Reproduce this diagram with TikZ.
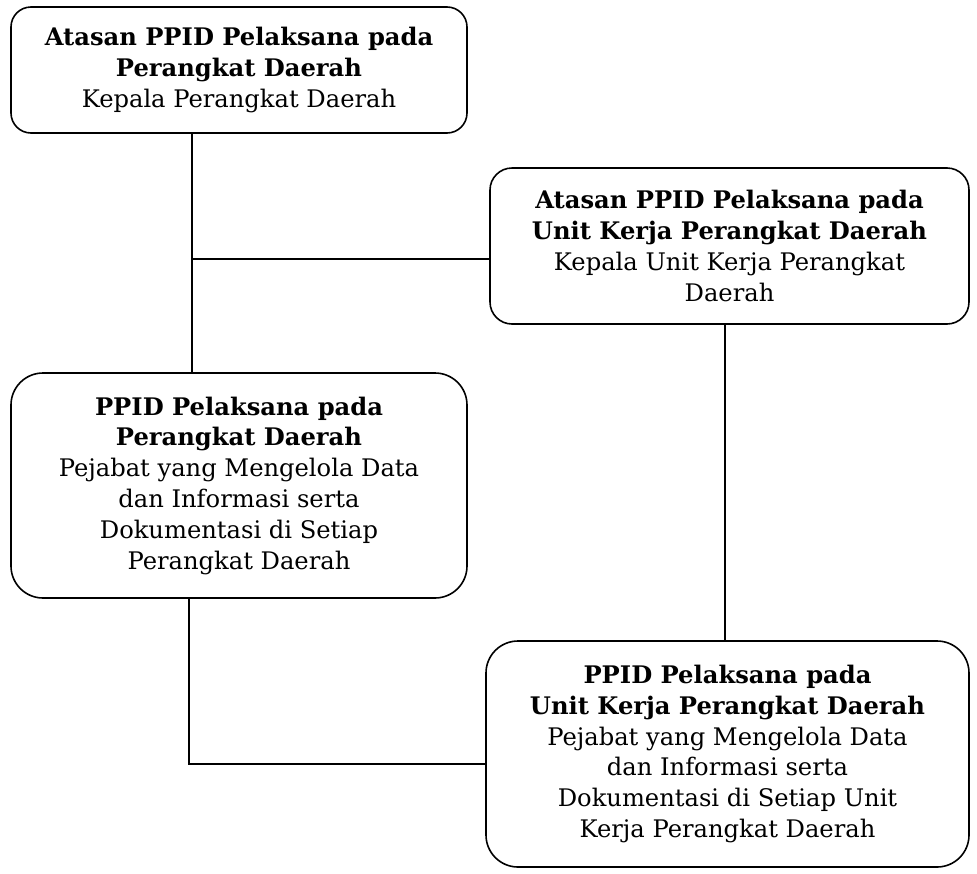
\documentclass[tikz,border=0pt]{standalone}
\usepackage{fontspec}
\setmainfont{DejaVu Serif}
\begin{document}
\begin{tikzpicture}[x=1pt,y=-1pt,
  box/.style={draw=black, line width=1.6pt, align=center, inner sep=0pt,
    font=\fontsize{24.2}{30.8}\selectfont},
  conn/.style={draw=black, line width=1.3pt}]
\useasboundingbox (0,0) rectangle (977,873);
\node[box, rounded corners=20pt, minimum width=456pt, minimum height=126pt] (a) at (239,70)
  {\textbf{Atasan PPID Pelaksana pada}\\\textbf{Perangkat Daerah}\\Kepala Perangkat Daerah};
\node[box, rounded corners=22pt, minimum width=479pt, minimum height=156pt] (b) at (729.5,246)
  {\textbf{Atasan PPID Pelaksana pada}\\\textbf{Unit Kerja Perangkat Daerah}\\Kepala Unit Kerja Perangkat\\Daerah};
\node[box, rounded corners=32pt, minimum width=456pt, minimum height=225pt] (c) at (239,485.5)
  {\textbf{PPID Pelaksana pada}\\\textbf{Perangkat Daerah}\\Pejabat yang Mengelola Data\\dan Informasi serta\\Dokumentasi di Setiap\\Perangkat Daerah};
\node[box, rounded corners=32pt, minimum width=483pt, minimum height=226pt] (d) at (727.5,754)
  {\textbf{PPID Pelaksana pada}\\\textbf{Unit Kerja Perangkat Daerah}\\Pejabat yang Mengelola Data\\dan Informasi serta\\Dokumentasi di Setiap Unit\\Kerja Perangkat Daerah};
\coordinate (j1) at (192,259);
\coordinate (j2) at (189,764);
\draw[conn] (a.south -| j1) -- (c.north -| j1);
\draw[conn] (j1) -- (j1 -| b.west);
\draw[conn] (b.south -| 725,0) -- (d.north -| 725,0);
\draw[conn] (c.south -| j2) -- (j2) -- (j2 -| d.west);
\end{tikzpicture}
\end{document}
